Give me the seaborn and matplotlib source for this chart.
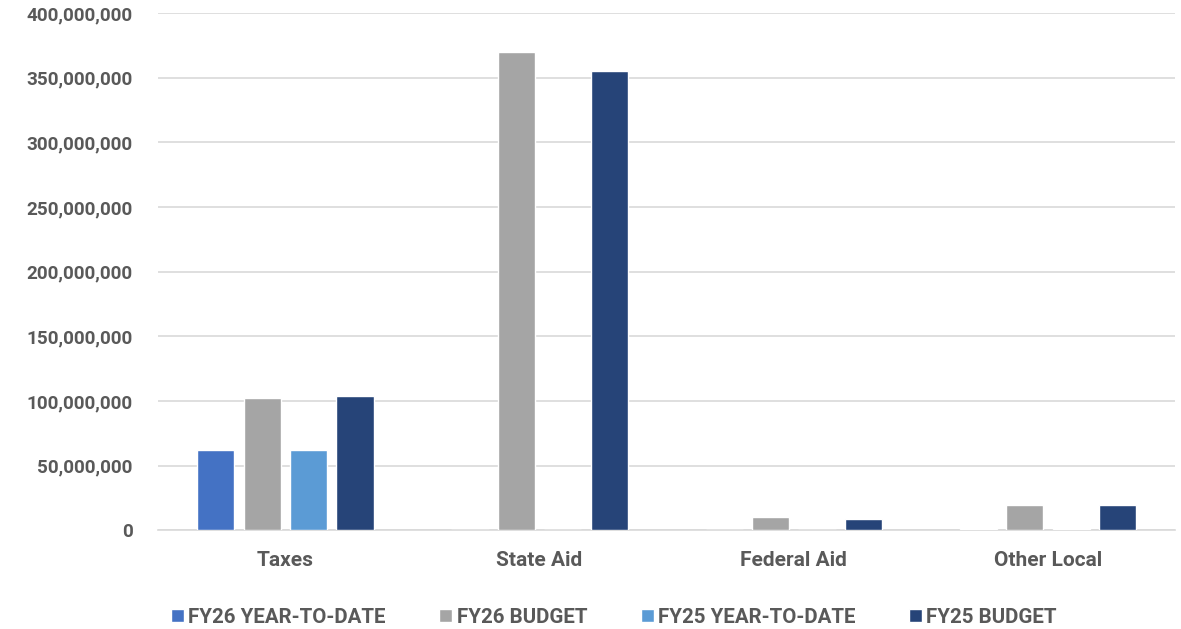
import seaborn as sns
import pandas as pd
import matplotlib.pyplot as plt
from matplotlib.ticker import FuncFormatter

categories = ["Taxes", "State Aid", "Federal Aid", "Other Local"]
series = ["FY26 YEAR-TO-DATE", "FY26 BUDGET", "FY25 YEAR-TO-DATE", "FY25 BUDGET"]
fy26_ytd = [62_000_000, 0, 0, 1_200_000]
fy26_budget = [102_000_000, 369_800_000, 10_000_000, 19_500_000]
fy25_ytd = [62_000_000, 0, 0, 1_200_000]
fy25_budget = [103_500_000, 355_000_000, 8_500_000, 19_500_000]
colors = ["#4472C4", "#A5A5A5", "#5B9BD5", "#264478"]

rows = []
for name, vals in zip(series, [fy26_ytd, fy26_budget, fy25_ytd, fy25_budget]):
    for cat, v in zip(categories, vals):
        rows.append([cat, name, v])
df = pd.DataFrame(rows, columns=["Category", "Series", "Value"])

sns.set_style("white")
plt.rcParams["font.family"] = ["Roboto", "DejaVu Sans"]
text_color = "#595959"

fig = plt.figure(figsize=(11.81, 6.29), dpi=100)
ax = fig.add_axes([0.134, 0.157, 0.861, 0.822])

sns.barplot(data=df, x="Category", y="Value", hue="Series", palette=colors,
            saturation=1, width=0.73, gap=0.2, ax=ax, legend=True, zorder=3)

ax.set_ylim(0, 400_000_000)
ax.set_yticks(range(0, 400_000_001, 50_000_000))
ax.yaxis.set_major_formatter(FuncFormatter(lambda v, p: f"{int(v):,}"))
ax.grid(axis="y", color="#D9D9D9", linewidth=1.2, zorder=0)
ax.set_axisbelow(True)
for s in ["top", "right", "left"]:
    ax.spines[s].set_visible(False)
ax.spines["bottom"].set_color("#D9D9D9")
ax.spines["bottom"].set_linewidth(1.2)
ax.set(xlabel=None, ylabel=None)
ax.tick_params(axis="y", length=0, labelsize=13.6, labelcolor=text_color, pad=18.5)
ax.tick_params(axis="x", length=0, labelsize=15, labelcolor=text_color, pad=15)
for lab in ax.get_xticklabels() + ax.get_yticklabels():
    lab.set_fontweight("bold")

handles, labels = ax.get_legend_handles_labels()
ax.legend(handles, labels, loc="upper center", bbox_to_anchor=(0.448, -0.114),
          ncol=4, frameon=False, handlelength=0.65, handleheight=0.65,
          handletextpad=0.2, columnspacing=2.6,
          prop={"weight": "bold", "size": 14.8})
for t in ax.get_legend().get_texts():
    t.set_color(text_color)

plt.savefig("out.png", dpi=100)
